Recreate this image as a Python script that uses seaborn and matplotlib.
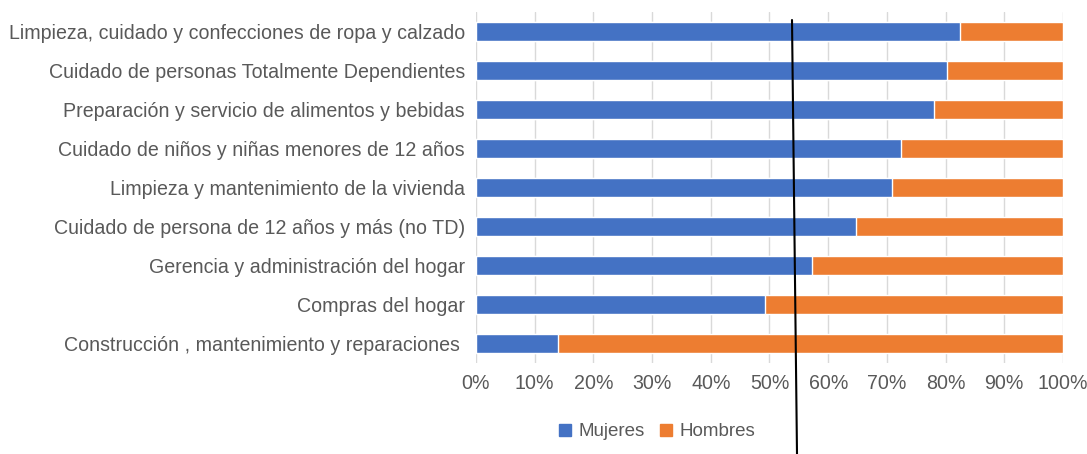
import numpy as np
import pandas as pd
import seaborn as sns
import matplotlib.pyplot as plt
from matplotlib.lines import Line2D
from matplotlib.patches import Patch

categorias = [
    'Limpieza, cuidado y confecciones de ropa y calzado',
    'Cuidado de personas Totalmente Dependientes',
    'Preparación y servicio de alimentos y bebidas',
    'Cuidado de niños y niñas menores de 12 años',
    'Limpieza y mantenimiento de la vivienda',
    'Cuidado de persona de 12 años y más (no TD)',
    'Gerencia y administración del hogar',
    'Compras del hogar',
    'Construcción , mantenimiento y reparaciones ',
]
mujeres = [82.5, 80.2, 78.1, 72.4, 70.9, 64.8, 57.3, 49.3, 14.0]
hombres = [17.5, 19.8, 21.9, 27.6, 29.1, 35.2, 42.7, 50.7, 86.0]

df = pd.DataFrame({'Actividad': categorias, 'Mujeres': mujeres, 'Hombres': hombres})
df['Total'] = df['Mujeres'] + df['Hombres']

azul = '#4472C4'
naranja = '#ED7D31'
gris = '#595959'

sns.set_style('white')
plt.rcParams['font.family'] = ['Liberation Sans', 'DejaVu Sans']

fig = plt.figure(figsize=(10.87, 4.54), dpi=100)
ax = fig.add_axes([476 / 1087, 1 - 363 / 454, (1063 - 476) / 1087, 351 / 454])

sns.barplot(data=df, x='Total', y='Actividad', color=naranja, width=0.49,
            orient='h', saturation=1, ax=ax)
sns.barplot(data=df, x='Mujeres', y='Actividad', color=azul, width=0.49,
            orient='h', saturation=1, ax=ax)

ax.set_xlim(0, 100)
ax.set_xticks(np.arange(0, 101, 10))
ax.set_xticklabels([f'{t}%' for t in range(0, 101, 10)])
ax.grid(axis='x', color='#d9d9d9', linewidth=1)
ax.set_axisbelow(True)
for s in ax.spines.values():
    s.set_visible(False)
ax.set_xlabel('')
ax.set_ylabel('')
ax.tick_params(axis='both', length=0, labelsize=14.1, colors=gris, pad=8)
ax.tick_params(axis='x', pad=8)

handles = [Patch(color=azul, label='Mujeres'), Patch(color=naranja, label='Hombres')]
fig.legend(handles=handles, loc='center', bbox_to_anchor=(657 / 1087, 1 - 432 / 454),
           ncol=2, frameon=False, fontsize=13.5, handlelength=0.65, handleheight=0.65,
           handletextpad=0.4, columnspacing=0.8, labelcolor=gris)

# linea vertical trazada a mano sobre el grafico
fig.add_artist(Line2D([792 / 1087, 797 / 1087], [1 - 20 / 454, 0], color='black', linewidth=1.5))

fig.savefig('out.png', dpi=100)
